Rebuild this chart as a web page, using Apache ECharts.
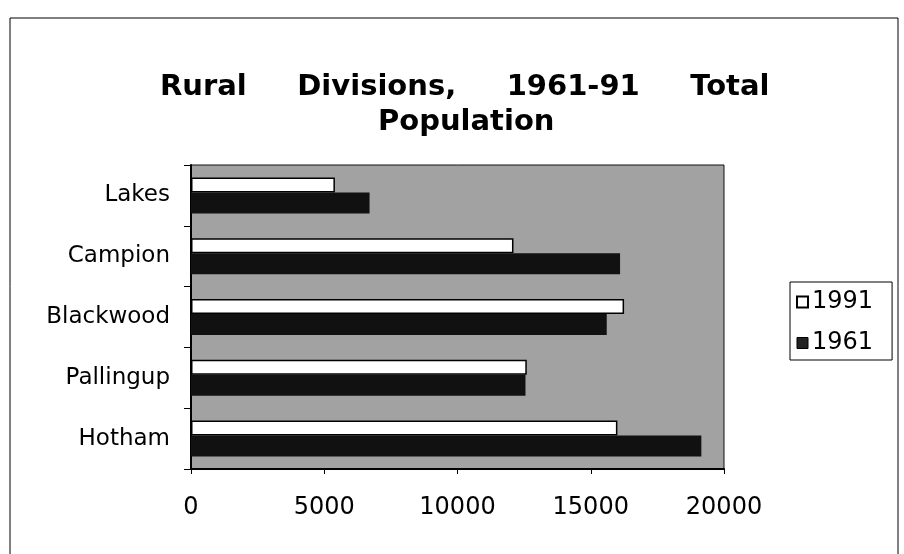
<!DOCTYPE html>
<html><head><meta charset="utf-8">
<script src="https://cdn.jsdelivr.net/npm/echarts@6/dist/echarts.min.js"></script>
<style>html,body{margin:0;padding:0;background:#fff}#c{width:904px;height:554px}</style>
</head><body><div id="c"></div>
<script>
// ---- data ----
const categories = ['Hotham', 'Pallingup', 'Blackwood', 'Campion', 'Lakes'];
const pop1991 = [16000, 12600, 16250, 12100, 5400];
const pop1961 = [19150, 12550, 15600, 16100, 6700];
const seriesNames = ['1991', '1961'];
const xMin = 0, xMax = 20000, xStep = 5000;
const titleLine1 = 'Rural     Divisions,     1961-91     Total';
const titleLine2 = 'Population';

const chart = echarts.init(document.getElementById('c'), null, {renderer: 'canvas'});
const fontAxis = 'DejaVu Sans';
chart.setOption({
  animation: false,
  backgroundColor: '#ffffff',
  title: [
    {text: titleLine1, left: 160, top: 73, padding: 0,
     textStyle: {fontFamily: fontAxis, fontWeight: 'bold', fontSize: 29, color: '#000'}},
    {text: titleLine2, left: 378, top: 108, padding: 0,
     textStyle: {fontFamily: fontAxis, fontWeight: 'bold', fontSize: 29, color: '#000'}}
  ],
  graphic: [
    {type: 'polyline', silent: true, shape: {points: [[10, 600], [10, 18], [898, 18], [898, 600]]},
     style: {stroke: '#000', lineWidth: 1, fill: null}}
  ],
  legend: {
    orient: 'vertical', left: 790, top: 282,
    backgroundColor: '#fff', borderColor: '#000', borderWidth: 1, borderRadius: 0,
    padding: [8, 19, 5, 6], itemGap: 17, itemWidth: 11, itemHeight: 11, icon: 'rect',
    textStyle: {fontFamily: fontAxis, fontSize: 24, color: '#000', padding: [0, 0, 0, -1]},
    data: [
      {name: seriesNames[0], itemStyle: {color: '#fff', borderColor: '#000', borderWidth: 2}},
      {name: seriesNames[1], itemStyle: {color: '#222', borderColor: '#000', borderWidth: 1}}
    ]
  },
  grid: {
    left: 191, top: 165, width: 533, height: 304, containLabel: false,
    show: true, backgroundColor: '#a2a2a2', borderColor: '#111', borderWidth: 1
  },
  xAxis: {
    type: 'value', min: xMin, max: xMax, interval: xStep,
    axisLine: {show: true, lineStyle: {color: '#000', width: 2}},
    axisTick: {show: true, inside: false, length: 5, lineStyle: {color: '#000', width: 1}},
    splitLine: {show: false},
    axisLabel: {margin: 27, fontFamily: fontAxis, fontSize: 24, color: '#000',
                formatter: function (v) { return String(v); }}
  },
  yAxis: {
    type: 'category', data: categories,
    axisLine: {show: true, lineStyle: {color: '#000', width: 2}},
    axisTick: {show: true, inside: false, length: 7, lineStyle: {color: '#000', width: 1}},
    axisLabel: {margin: 21, fontFamily: fontAxis, fontSize: 23, color: '#000'}
  },
  series: [
    {name: seriesNames[0], type: 'bar', data: pop1991, barWidth: 15, barGap: '0%',
     itemStyle: {color: '#fff', borderColor: '#000', borderWidth: 1.5}},
    {name: seriesNames[1], type: 'bar', data: pop1961, barWidth: 21, barGap: '0%',
     itemStyle: {color: '#111', borderColor: '#000', borderWidth: 0}}
  ]
});
</script>
</body></html>
